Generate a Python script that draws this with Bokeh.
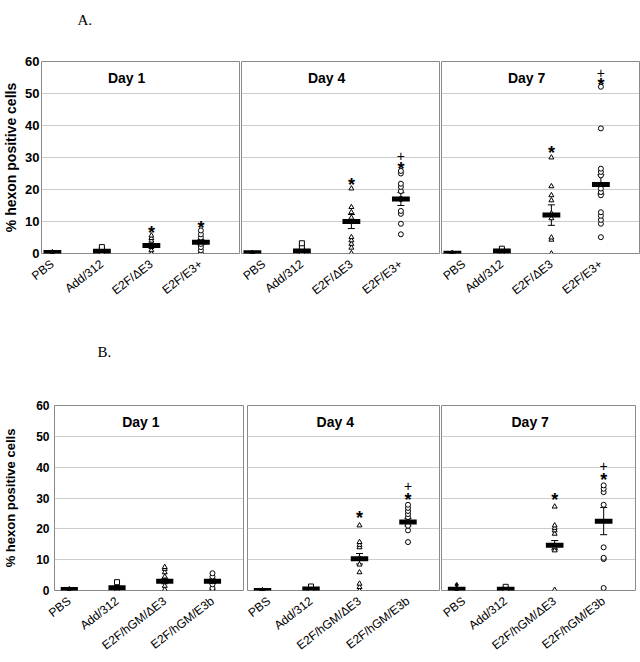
from bokeh.plotting import figure
from bokeh.layouts import row, column
from bokeh.models import Range1d, FixedTicker, ColumnDataSource, Whisker, TeeHead, Label
from bokeh.embed import file_html
from bokeh.resources import INLINE
from bokeh.core.properties import value

# ---------------- data ----------------
days = ["Day 1", "Day 4", "Day 7"]
A_groups = ["PBS", "Add/312", "E2F/ΔE3", "E2F/E3+"]
B_groups = ["PBS", "Add/312", "E2F/hGM/ΔE3", "E2F/hGM/E3b"]
group_markers = ["diamond", "square", "triangle", "circle"]
y_ticks = [0, 10, 20, 30, 40, 50, 60]

# Panel A (individual values per group)
A_d1_points = [[0.0, 0.3, 0.5], [0.0, 0.5, 1.2, 2.0],
               [0.0, 1.0, 2.0, 2.5, 3.2, 4.0, 4.8, 5.6],
               [0.0, 1.0, 2.0, 3.0, 4.0, 5.0, 6.0, 7.2]]
A_d4_points = [[0.0, 0.3], [0.0, 0.5, 1.0, 2.0, 3.2],
               [0.1, 1.8, 3.0, 4.1, 5.1, 10.0, 11.2, 12.9, 14.5, 20.3],
               [6.0, 9.3, 12.4, 13.3, 17.0, 19.5, 20.8, 21.8, 25.0, 25.8]]
A_d7_points = [[0.0, 0.3], [0.2, 0.8, 1.5],
               [0.0, 4.3, 5.0, 11.0, 12.5, 16.6, 18.2, 21.0, 30.0],
               [5.1, 9.3, 10.5, 11.8, 12.9, 18.2, 19.2, 20.3, 24.4, 25.5, 26.5, 39.1, 52.1]]
A_d1_mean = [0.3, 0.7, 2.5, 3.5]
A_d4_mean = [0.2, 0.8, 10.0, 17.0]
A_d7_mean = [0.1, 0.8, 12.0, 21.6]
A_d1_sem = [0.1, 0.3, 0.6, 0.8]
A_d4_sem = [0.1, 0.4, 2.2, 2.0]
A_d7_sem = [0.1, 0.3, 3.2, 3.0]
A_d1_star = [None, None, 7.7, 9.3]
A_d4_star = [None, None, 22.7, 27.6]
A_d7_star = [None, None, 32.8, 53.9]
A_d1_plus = [None, None, None, None]
A_d4_plus = [None, None, None, 30.5]
A_d7_plus = [None, None, None, 56.5]

# Panel B
B_d1_points = [[0.0, 0.3, 0.5], [0.0, 0.8, 2.7],
               [0.3, 1.5, 3.0, 4.5, 5.9, 7.0, 7.6],
               [0.3, 0.8, 2.0, 3.0, 4.5, 5.6]]
B_d4_points = [[0.0, 0.2], [0.1, 0.6, 1.3],
               [0.0, 1.1, 2.2, 5.9, 8.4, 10.5, 14.0, 14.8, 15.7, 21.1],
               [15.7, 19.5, 21.0, 22.5, 23.8, 24.8, 25.8, 26.8, 27.8]]
B_d7_points = [[0.0, 0.4, 1.8], [0.0, 0.4, 1.2],
               [0.2, 13.0, 14.0, 18.4, 19.5, 20.3, 21.1, 27.2],
               [0.8, 10.2, 10.6, 14.0, 27.8, 31.9, 33.0, 34.1]]
B_d1_mean = [0.3, 0.9, 3.0, 3.0]
B_d4_mean = [0.0, 0.5, 10.3, 22.2]
B_d7_mean = [0.4, 0.4, 14.7, 22.5]
B_d1_sem = [0.1, 0.5, 0.8, 0.7]
B_d4_sem = [0.1, 0.3, 1.7, 1.2]
B_d7_sem = [0.2, 0.2, 1.5, 4.4]
B_d1_star = [None, None, None, None]
B_d4_star = [None, None, 24.9, 30.8]
B_d7_star = [None, None, 30.8, 37.1]
B_d1_plus = [None, None, None, None]
B_d4_plus = [None, None, None, 33.8]
B_d7_plus = [None, None, None, 40.5]

FONT = "Liberation Sans"


def header(text, height, offset, standoff):
    h = figure(width=640, height=height, title=text, output_backend="svg",
               toolbar_location=None, x_axis_location=None, y_axis_location=None,
               min_border_left=0, min_border_right=0, min_border_top=0,
               min_border_bottom=0, x_range=Range1d(0, 1), y_range=Range1d(0, 1))
    h.outline_line_color = None
    h.background_fill_color = "white"
    h.border_fill_color = "white"
    h.xgrid.visible = False
    h.ygrid.visible = False
    h.title.align = "left"
    h.title.offset = offset
    h.title.standoff = standoff
    h.title.text_font = "Liberation Serif"
    h.title.text_font_style = "normal"
    h.title.text_font_size = "15px"
    h.title.text_color = "black"
    return h


def panel(groups, pts, means, sems, stars, pluses, day, cfg, k):
    p = figure(width=cfg["w"][k], height=cfg["h"],
               x_range=Range1d(*cfg["xr"]), y_range=Range1d(0, 60),
               output_backend="svg", toolbar_location=None,
               min_border_left=cfg["bl"][k], min_border_right=cfg["br"][k],
               min_border_top=cfg["bt"], min_border_bottom=cfg["bb"])
    p.background_fill_color = "white"
    p.border_fill_color = "white"
    p.outline_line_color = "#8a8a8a"
    p.outline_line_width = 1

    xs = list(range(len(groups)))

    # individual values
    px, py, pm, pf = [], [], [], []
    for i, vals in enumerate(pts):
        for v in vals:
            px.append(i)
            py.append(v)
            pm.append(group_markers[i])
            pf.append("black" if group_markers[i] == "diamond" else "white")
    src = ColumnDataSource(dict(x=px, y=py, m=pm, f=pf))
    p.scatter("x", "y", marker="m", source=src, size=5, line_color="black",
              line_width=1, fill_color="f")

    # error bars
    wsrc = ColumnDataSource(dict(x=xs, lo=[m - s for m, s in zip(means, sems)],
                                 hi=[m + s for m, s in zip(means, sems)]))
    p.add_layout(Whisker(source=wsrc, base="x", lower="lo", upper="hi",
                         line_color="black", line_width=1,
                         upper_head=TeeHead(size=7, line_color="black", line_width=1),
                         lower_head=TeeHead(size=7, line_color="black", line_width=1)))

    # mean bars
    p.rect(x=xs, y=means, width=0.36, height=5, height_units="screen",
           fill_color="black", line_color=None)

    # significance marks
    sx = [i for i, s in enumerate(stars) if s is not None]
    sy = [s for s in stars if s is not None]
    if sx:
        p.text(x=sx, y=sy, text=["*"] * len(sx), text_font=value(FONT),
               text_font_style="bold", text_font_size="18px", text_align="center",
               text_baseline="alphabetic", y_offset=4, text_color="black")
    qx = [i for i, s in enumerate(pluses) if s is not None]
    qy = [s for s in pluses if s is not None]
    if qx:
        p.text(x=qx, y=qy, text=["+"] * len(qx), text_font=value(FONT),
               text_font_size="14px", text_align="center",
               text_baseline="alphabetic", y_offset=0, text_color="black")

    p.add_layout(Label(x=1.5, y=54.7, text=day, text_align="center",
                       text_baseline="middle", text_font=FONT,
                       text_font_style="bold", text_font_size="14px",
                       text_color="black"))

    # x axis
    p.xaxis.ticker = FixedTicker(ticks=xs)
    p.xaxis.major_label_overrides = {i: g for i, g in enumerate(groups)}
    p.xaxis.major_label_orientation = 0.66
    p.xaxis.major_label_text_font = FONT
    p.xaxis.major_label_text_font_size = "12px"
    p.xaxis.major_label_text_color = "black"
    p.xaxis.major_label_standoff = cfg["x_so"]
    p.xaxis.major_tick_line_color = None
    p.xaxis.major_tick_out = 0
    p.xaxis.major_tick_in = 0
    p.xaxis.minor_tick_line_color = None
    p.xaxis.minor_tick_out = 0
    p.xaxis.axis_line_color = None

    # y axis and grid
    p.yaxis.ticker = FixedTicker(ticks=y_ticks)
    p.ygrid.ticker = FixedTicker(ticks=y_ticks[1:-1])
    p.ygrid.grid_line_color = "#9a9a9a"
    p.ygrid.grid_line_dash = "1 1"
    p.xgrid.visible = False
    if k == 0:
        p.yaxis.axis_label = "% hexon positive cells"
        p.yaxis.axis_label_text_font = FONT
        p.yaxis.axis_label_text_font_style = "bold"
        p.yaxis.axis_label_text_font_size = cfg["lab_fs"]
        p.yaxis.axis_label_text_color = "black"
        p.yaxis.axis_label_standoff = cfg["lab_so"]
        p.yaxis.major_label_text_font = FONT
        p.yaxis.major_label_text_font_style = "bold"
        p.yaxis.major_label_text_font_size = cfg["tick_fs"]
        p.yaxis.major_label_text_color = "black"
        p.yaxis.major_label_standoff = cfg["tick_so"]
        p.yaxis.major_tick_line_color = None
        p.yaxis.major_tick_out = 0
        p.yaxis.major_tick_in = 0
        p.yaxis.minor_tick_line_color = None
        p.yaxis.minor_tick_out = 0
        p.yaxis.axis_line_color = None
    else:
        p.yaxis.visible = False
    return p


cfgA = dict(w=[240, 200, 200], h=290, xr=(-0.22, 3.78),
            bl=[39, 1, 1], br=[1, 1, 1], bt=21, bb=77, x_so=9,
            lab_fs="14px", lab_so=3, tick_fs="13px", tick_so=2)
cfgB = dict(w=[245, 195, 200], h=285, xr=(-0.31, 3.65),
            bl=[50, 2, 1], br=[2, 1, 5], bt=30, bb=70, x_so=9,
            lab_fs="13px", lab_so=15, tick_fs="12px", tick_so=5)

A_pts = [A_d1_points, A_d4_points, A_d7_points]
A_mean = [A_d1_mean, A_d4_mean, A_d7_mean]
A_sem = [A_d1_sem, A_d4_sem, A_d7_sem]
A_star = [A_d1_star, A_d4_star, A_d7_star]
A_plus = [A_d1_plus, A_d4_plus, A_d7_plus]
B_pts = [B_d1_points, B_d4_points, B_d7_points]
B_mean = [B_d1_mean, B_d4_mean, B_d7_mean]
B_sem = [B_d1_sem, B_d4_sem, B_d7_sem]
B_star = [B_d1_star, B_d4_star, B_d7_star]
B_plus = [B_d1_plus, B_d4_plus, B_d7_plus]

rowA = [panel(A_groups, A_pts[k], A_mean[k], A_sem[k], A_star[k], A_plus[k], days[k],
              cfgA, k) for k in range(3)]
rowB = [panel(B_groups, B_pts[k], B_mean[k], B_sem[k], B_star[k], B_plus[k], days[k],
              cfgB, k) for k in range(3)]

headA = header("A.", 40, 77, 19)
headB = header("B.", 45, 97, 23)

layout = column(headA, row(*rowA, spacing=0), headB, row(*rowB, spacing=0), spacing=0)
open("out.html", "w").write(file_html(layout, INLINE))
